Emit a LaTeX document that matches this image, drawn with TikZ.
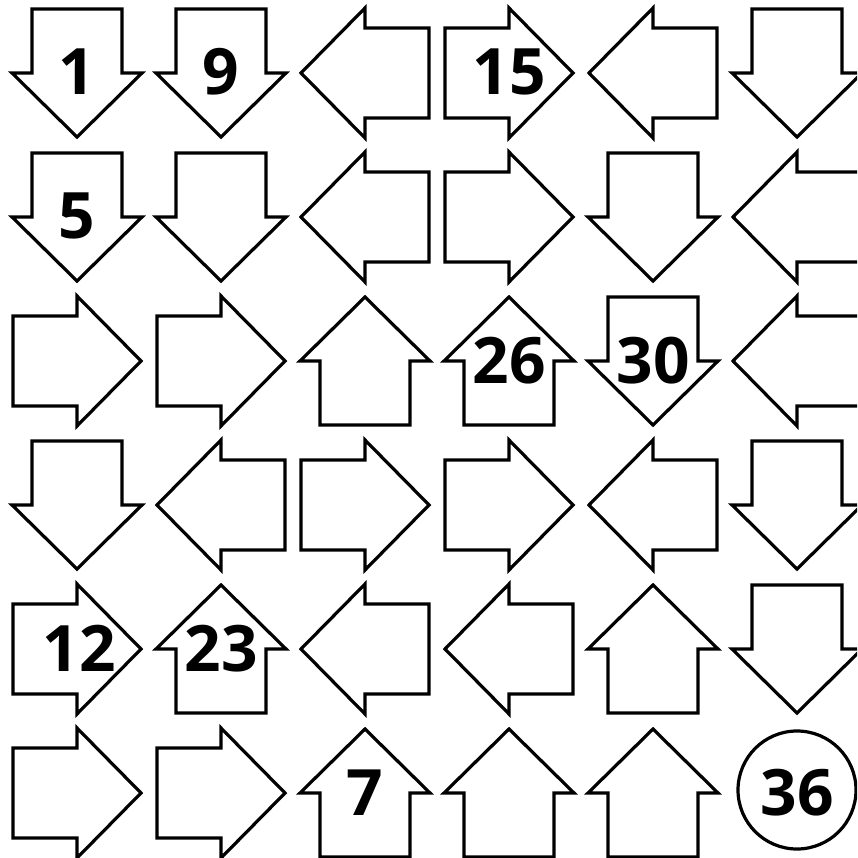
\documentclass[tikz,border=0pt]{standalone}
\usepackage{fontspec}
\newfontfamily\numfont{Open Sans}
\begin{document}
\begin{tikzpicture}[x=1pt,y=-1pt,
  arr/.style={draw=black, line width=3.2pt, fill=white, miter limit=10},
  num/.style={font=\numfont\bfseries\fontsize{64}{64}\selectfont, anchor=base, inner sep=0pt},
  arrowpic/.pic={\path[arr] (-64,-45) -- (0,-45) -- (0,-65) -- (64,0) -- (0,65) -- (0,45) -- (-64,45) -- cycle;}]
\useasboundingbox (0,0) rectangle (857,858);
\fill[white] (0,0) rectangle (857,858);
\clip (0,0) rectangle (857,858);
\foreach \r/\c/\d in {
  0/0/270, 0/1/270, 0/2/180, 0/3/0,   0/4/180, 0/5/270,
  1/0/270, 1/1/270, 1/2/180, 1/3/0,   1/4/270, 1/5/180,
  2/0/0,   2/1/0,   2/2/90,  2/3/90,  2/4/270, 2/5/180,
  3/0/270, 3/1/180, 3/2/0,   3/3/0,   3/4/180, 3/5/270,
  4/0/0,   4/1/90,  4/2/180, 4/3/180, 4/4/90,  4/5/270,
  5/0/0,   5/1/0,   5/2/90,  5/3/90,  5/4/90}
  \pic[rotate=\d] at ({77+144*\c},{73+144*\r}) {arrowpic};
\node[draw=black, line width=3.2pt, circle, minimum size=118pt, inner sep=0pt] (c36) at (797,790) {};
\node[num] (n1)  at (77,95)   {1};
\node[num] (n9)  at (221,95)  {9};
\node[num] (n15) at (509,95)  {15};
\node[num] (n5)  at (77,239)  {5};
\node[num] (n26) at (509,383) {26};
\node[num] (n30) at (653,383) {30};
\node[num] (n12) at (79,671)  {12};
\node[num] (n23) at (221,671) {23};
\node[num] (n7)  at (365,815) {7};
\node[num] (n36) at (797,815) {36};
\end{tikzpicture}
\end{document}
